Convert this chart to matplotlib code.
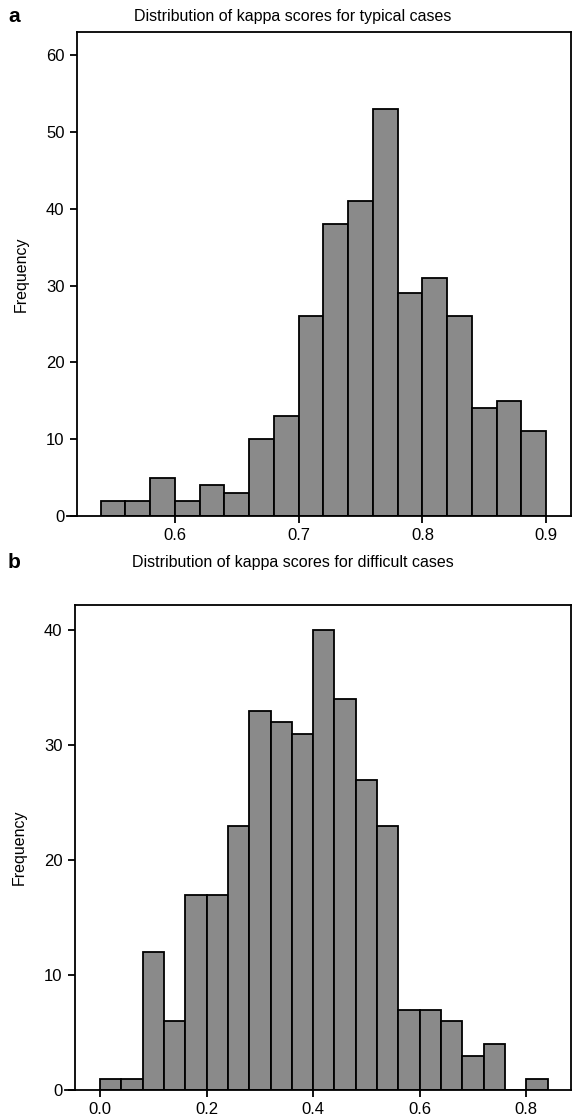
import numpy as np
import matplotlib
matplotlib.use("Agg")
import matplotlib.pyplot as plt

plt.rcParams['font.family'] = ['Liberation Sans', 'DejaVu Sans']

# panel a: typical cases
edges_a = [0.54, 0.56, 0.58, 0.60, 0.62, 0.64, 0.66, 0.68, 0.70, 0.72,
           0.74, 0.76, 0.78, 0.80, 0.82, 0.84, 0.86, 0.88, 0.90]
counts_a = [2, 2, 5, 2, 4, 3, 10, 13, 26, 38, 41, 53, 29, 31, 26, 14, 15, 11]
xticks_a = [0.6, 0.7, 0.8, 0.9]
yticks_a = [0, 10, 20, 30, 40, 50, 60]

# panel b: difficult cases
edges_b = [0.00, 0.04, 0.08, 0.12, 0.16, 0.20, 0.24, 0.28, 0.32, 0.36, 0.40,
           0.44, 0.48, 0.52, 0.56, 0.60, 0.64, 0.68, 0.72, 0.76, 0.80, 0.84]
counts_b = [1, 1, 12, 6, 17, 17, 23, 33, 32, 31, 40, 34, 27, 23, 7, 7, 6, 3, 4, 0, 1]
xticks_b = [0.0, 0.2, 0.4, 0.6, 0.8]
yticks_b = [0, 10, 20, 30, 40]

W, H = 572, 1120
fig = plt.figure(figsize=(W / 100, H / 100), dpi=100)

def panel(rect, edges, counts, xlim, ylim, xticks, yticks, title, letter, ty):
    ax = fig.add_axes(rect)
    edges = np.array(edges)
    ax.bar(edges[:-1], counts, width=np.diff(edges), align='edge',
           color='#8a8a8a', edgecolor='black', linewidth=1.3)
    ax.set_xlim(*xlim)
    ax.set_ylim(*ylim)
    ax.set_xticks(xticks)
    ax.set_xticklabels(['{:.1f}'.format(t) for t in xticks])
    ax.set_yticks(yticks)
    ax.tick_params(direction='out', length=5, width=1.3, labelsize=12, pad=4)
    for s in ax.spines.values():
        s.set_linewidth(1.3)
    # the x axis line runs a little past the left edge of the box
    ax.plot([xlim[0] - 0.02 * (xlim[1] - xlim[0]), xlim[0]], [0, 0],
            color='black', lw=1.3, clip_on=False)
    ax.set_ylabel('Frequency', fontsize=11.5, labelpad=12)
    fig.text(0.512, ty, title, ha='center', va='center', fontsize=11.5)
    fig.text(0.014, ty, letter, ha='left', va='center', fontsize=15, fontweight='bold')
    return ax

panel([77 / W, 1 - 516 / H, 494 / W, 484 / H], edges_a, counts_a,
      (0.521, 0.92), (0, 63), xticks_a, yticks_a,
      'Distribution of kappa scores for typical cases', 'a', 1 - 17 / H)

panel([75 / W, 1 - 1090 / H, 496 / W, 485 / H], edges_b, counts_b,
      (-0.047, 0.884), (0, 42.2), xticks_b, yticks_b,
      'Distribution of kappa scores for difficult cases', 'b', 1 - 562 / H)

fig.savefig('out.png', dpi=100)
